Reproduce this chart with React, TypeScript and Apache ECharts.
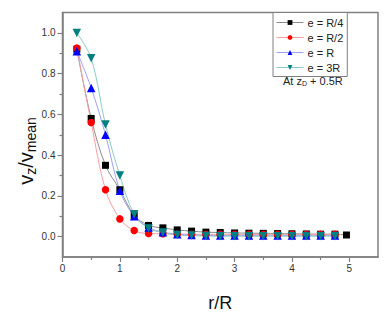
import React, { useEffect, useRef } from "react";
import * as echarts from "echarts";

const rValues = [0.25, 0.5, 0.75, 1.0, 1.25, 1.5, 1.75, 2.0, 2.25, 2.5, 2.75, 3.0, 3.25, 3.5, 3.75, 4.0, 4.25, 4.5, 4.75];
const rValuesQuarter = [...rValues, 4.95];

const seriesNames = ["e = R/4", "e = R/2", "e = R", "e = 3R"];

const vQuarter = [0.92, 0.58, 0.35, 0.23, 0.105, 0.055, 0.043, 0.033, 0.027, 0.022, 0.02, 0.018, 0.017, 0.016, 0.015, 0.014, 0.013, 0.012, 0.012, 0.008];
const vHalf = [0.925, 0.56, 0.23, 0.087, 0.03, 0.015, 0.014, 0.012, 0.012, 0.011, 0.011, 0.011, 0.011, 0.011, 0.011, 0.011, 0.011, 0.011, 0.011];
const vOne = [0.91, 0.73, 0.5, 0.225, 0.1, 0.045, 0.022, 0.012, 0.008, 0.006, 0.005, 0.005, 0.005, 0.005, 0.005, 0.005, 0.005, 0.005, 0.005];
const vThree = [1.0, 0.875, 0.55, 0.3, 0.11, 0.04, 0.02, 0.008, 0.005, 0.003, 0.002, 0.002, 0.002, 0.002, 0.002, 0.002, 0.002, 0.002, 0.002];

const xMajorTicks = [0, 1, 2, 3, 4, 5];
const xMinorTicks = [0.5, 1.5, 2.5, 3.5, 4.5];
const yMajorTicks = [0, 0.2, 0.4, 0.6, 0.8, 1.0];
const yMinorTicks = [0.1, 0.3, 0.5, 0.7, 0.9];

const axisGray = "#808080";
const FONT = "Arial, Liberation Sans";

export default function App() {
  const ref = useRef<HTMLDivElement>(null);
  useEffect(() => {
    if (!ref.current) return;
    const chart = echarts.init(ref.current, undefined, { renderer: "svg" });
    const zip = (xs: number[], ys: number[]) => ys.map((y, i) => [xs[i], y]);
    const mk = (name: string, xs: number[], ys: number[], symbol: string, size: number, color: string, lineColor: string, rotate = 0) => ({
      name,
      type: "line",
      data: zip(xs, ys),
      smooth: 0.35,
      symbol,
      symbolSize: size,
      symbolRotate: rotate,
      showAllSymbol: true,
      itemStyle: { color },
      lineStyle: { color: lineColor, width: 1 },
      xAxisIndex: 0,
      yAxisIndex: 0,
    });
    const baseX = {
      type: "value",
      min: 0,
      max: 5.5,
      splitLine: { show: false },
    };
    const baseY = {
      type: "value",
      min: -0.1,
      max: 1.1,
      splitLine: { show: false },
    };
    chart.setOption({
      animation: false,
      backgroundColor: "#ffffff",
      grid: {
        left: 62.5,
        right: 9,
        top: 12.5,
        bottom: 50.5,
        show: true,
        borderColor: axisGray,
        borderWidth: 1.5,
      },
      xAxis: [
        {
          ...baseX,
          name: "r/R",
          nameLocation: "middle",
          nameGap: 37,
          nameTextStyle: { fontFamily: FONT, fontSize: 18, color: "#111" },
          axisLine: { show: true, onZero: false, lineStyle: { color: axisGray, width: 1.5 } },
          axisTick: { show: true, customValues: xMajorTicks, length: 5, lineStyle: { color: axisGray, width: 1.2 } },
          axisLabel: {
            customValues: xMajorTicks,
            fontFamily: FONT,
            fontSize: 10,
            color: "#333",
            margin: 6,
          },
        },
        {
          ...baseX,
          position: "bottom",
          axisLine: { show: false, onZero: false },
          axisTick: { show: true, customValues: xMinorTicks, length: 3, lineStyle: { color: axisGray, width: 1.2 } },
          axisLabel: { show: false },
        },
      ],
      yAxis: [
        {
          ...baseY,
          axisLine: { show: true, onZero: false, lineStyle: { color: axisGray, width: 1.5 } },
          axisTick: { show: true, customValues: yMajorTicks, length: 5, lineStyle: { color: axisGray, width: 1.2 } },
          axisLabel: {
            customValues: yMajorTicks,
            formatter: (v: number) => v.toFixed(1),
            fontFamily: FONT,
            fontSize: 10,
            color: "#333",
            margin: 7,
          },
        },
        {
          ...baseY,
          position: "left",
          axisLine: { show: false, onZero: false },
          axisTick: { show: true, customValues: yMinorTicks, length: 3, lineStyle: { color: axisGray, width: 1.2 } },
          axisLabel: { show: false },
        },
      ],
      legend: {
        data: seriesNames,
        orient: "vertical",
        left: 273,
        top: 12.5,
        padding: [4, 4, 3, 3],
        itemWidth: 27,
        itemHeight: 6,
        itemGap: 3,
        borderColor: axisGray,
        borderWidth: 1,
        backgroundColor: "#fff",
        lineStyle: { width: 1 },
        textStyle: { fontFamily: FONT, fontSize: 11, color: "#222", lineHeight: 12, padding: [0, 0, 0, -1] },
      },
      graphic: [
        {
          type: "text",
          x: 26,
          y: 151,
          rotation: Math.PI / 2,
          style: {
            text: "v{sub|z}/v{sub|mean}",
            font: "20px Arial, Liberation Sans",
            fill: "#111",
            align: "center",
            verticalAlign: "middle",
            rich: {
              sub: { fontSize: 14, fontFamily: FONT, fill: "#111", padding: [9, 0, 0, 0] },
            },
          },
        },
        {
          type: "text",
          left: 283,
          top: 75,
          style: {
            text: "At z{sub|D} + 0.5R",
            font: "11px Arial, Liberation Sans",
            fill: "#222",
            rich: {
              sub: { fontSize: 7, fontFamily: FONT, fill: "#222", padding: [6, 0, 0, 0] },
            },
          },
        },
      ],
      series: [
        mk(seriesNames[0], rValuesQuarter, vQuarter, "rect", 7, "#000000", "#8c8c8c"),
        mk(seriesNames[1], rValues, vHalf, "circle", 7.5, "#ff0000", "#f4a0a0"),
        mk(seriesNames[2], rValues, vOne, "triangle", 8.5, "#0000ff", "#a0a0f4"),
        mk(seriesNames[3], rValues, vThree, "triangle", 8.5, "#008080", "#8ccbc6", 180),
      ],
    });
    return () => chart.dispose();
  }, []);
  return <div ref={ref} style={{ width: 387, height: 317, position: "absolute", left: 0, top: 0 }} />;
}
